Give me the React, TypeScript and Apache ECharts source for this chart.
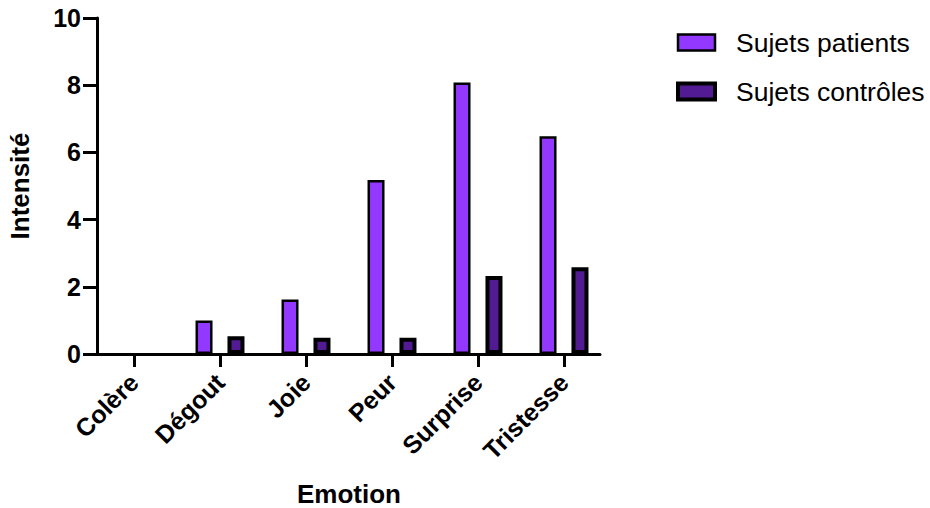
import React, { useEffect, useRef } from "react";
import * as echarts from "echarts";

const categories = ["Colère", "Dégout", "Joie", "Peur", "Surprise", "Tristesse"];
const patients = [0, 1.0, 1.62, 5.18, 8.08, 6.48];
const controles = [0, 0.53, 0.48, 0.48, 2.32, 2.58];
const seriesNames = ["Sujets patients", "Sujets contrôles"];
const colors = ["#9238FF", "#531B93"];
const yTicks = { min: 0, max: 10, interval: 2 };

const FONT = 'Arial, "Liberation Sans", Helvetica, sans-serif';

const toData = (vals: number[]) =>
  vals.map((v) => (v === 0 ? { value: v, itemStyle: { borderWidth: 0 } } : v));

export default function App() {
  const ref = useRef<HTMLDivElement>(null);
  useEffect(() => {
    document.body.style.margin = "0";
    const chart = echarts.init(ref.current!, null, { renderer: "svg" });
    chart.setOption({
      animation: false,
      backgroundColor: "#ffffff",
      textStyle: { fontFamily: FONT },
      legend: {
        orient: "vertical",
        left: 676,
        top: 28,
        padding: 0,
        icon: "rect",
        itemWidth: 37,
        itemHeight: 16,
        itemGap: 20,
        textStyle: {
          fontSize: 26.5,
          lineHeight: 29,
          color: "#000",
          fontFamily: FONT,
          padding: [0, 0, 0, 16],
        },
        data: [
          { name: seriesNames[0], itemStyle: { color: colors[0], borderColor: "#000", borderWidth: 2.5 } },
          { name: seriesNames[1], itemStyle: { color: colors[1], borderColor: "#000", borderWidth: 4 } },
        ],
      },
      grid: [
        { left: 91, right: 323, top: 18, bottom: 154, containLabel: false, outerBoundsMode: "none" },
        { left: 97, right: 330, top: 18, bottom: 154, containLabel: false, outerBoundsMode: "none" },
      ],
      xAxis: [
        {
          type: "category",
          gridIndex: 0,
          data: categories,
          axisLine: { show: false },
          axisTick: { show: true, alignWithLabel: true, length: 13, lineStyle: { color: "#000", width: 3 } },
          axisLabel: {
            rotate: 45,
            fontSize: 25,
            fontWeight: "bold",
            color: "#000",
            margin: 24,
            fontFamily: FONT,
          },
          name: "Emotion",
          nameLocation: "middle",
          nameGap: 127,
          nameTextStyle: { fontSize: 26, fontWeight: "bold", color: "#000", fontFamily: FONT },
          z: 5,
        },
        {
          type: "value",
          gridIndex: 1,
          min: 0,
          max: 1,
          axisLine: { show: true, lineStyle: { color: "#000", width: 3 } },
          axisTick: { show: false },
          axisLabel: { show: false },
          splitLine: { show: false },
        },
      ],
      yAxis: [
        {
          type: "value",
          gridIndex: 0,
          ...yTicks,
          show: false,
          splitLine: { show: false },
        },
        {
          type: "value",
          gridIndex: 1,
          ...yTicks,
          axisLine: { show: true, lineStyle: { color: "#000", width: 3 } },
          axisTick: { show: true, length: 14, lineStyle: { color: "#000", width: 3 } },
          axisLabel: { fontSize: 25, fontWeight: "bold", color: "#000", margin: 16, fontFamily: FONT },
          splitLine: { show: false },
          name: "Intensité",
          nameLocation: "middle",
          nameRotate: 90,
          nameGap: 64,
          nameTextStyle: { fontSize: 26, fontWeight: "bold", color: "#000", fontFamily: FONT },
        },
      ],
      series: [
        {
          name: seriesNames[0],
          type: "bar",
          xAxisIndex: 0,
          yAxisIndex: 0,
          data: toData(patients),
          barWidth: 17,
          barGap: "88%",
          itemStyle: { color: colors[0], borderColor: "#000", borderWidth: 2.5 },
          z: 3,
        },
        {
          name: seriesNames[1],
          type: "bar",
          xAxisIndex: 0,
          yAxisIndex: 0,
          data: toData(controles),
          barWidth: 17,
          barGap: "88%",
          itemStyle: { color: colors[1], borderColor: "#000", borderWidth: 4 },
          z: 3,
        },
      ],
    });
    return () => chart.dispose();
  }, []);
  return <div ref={ref} style={{ width: 930, height: 508 }} />;
}
